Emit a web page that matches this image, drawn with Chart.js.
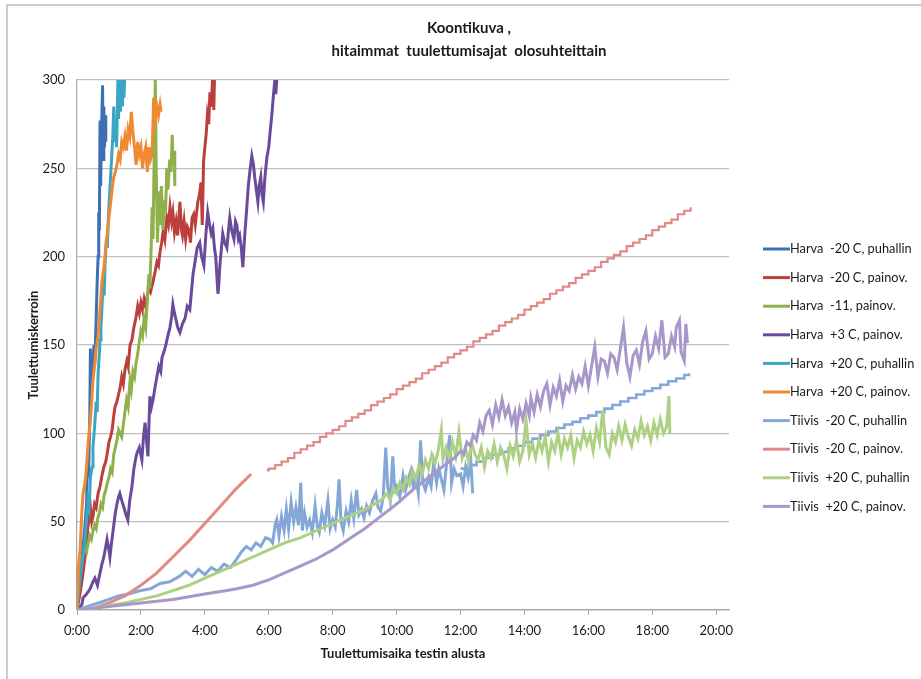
<!DOCTYPE html>
<html>
<head>
<meta charset="utf-8">
<title>Koontikuva</title>
<script src="https://cdn.jsdelivr.net/npm/chart.js@4.4.1/dist/chart.umd.min.js"></script>
<style>
  html, body { margin: 0; padding: 0; background: #fff; }
  #wrap { width: 921px; height: 679px; }
</style>
</head>
<body>
<div id="wrap"><canvas id="koonti" width="921" height="679"></canvas></div>
<script>
// time in hours from test start, value = tuulettumiskerroin
var harvaM20Puh = [[0,0],[0.05,12],[0.1,22],[0.15,30],[0.2,38],[0.25,48],[0.3,60],[0.33,90],[0.36,75],[0.4,110],[0.42,148],[0.44,120],[0.47,145],[0.5,135],[0.53,150],[0.56,140],[0.6,165],[0.63,185],[0.66,200],[0.68,225],[0.7,215],[0.72,277],[0.74,240],[0.76,265],[0.8,297],[0.82,255],[0.84,285],[0.86,262],[0.88,280],[0.9,265]];

var harvaM20Pai = [[0,0],[0.05,5],[0.1,10],[0.15,16],[0.19,21],[0.25,30],[0.3,38],[0.34,47],[0.38,52],[0.42,58],[0.46,50],[0.5,53],[0.55,60],[0.6,58],[0.66,66],[0.72,70],[0.78,76],[0.84,81],[0.9,84],[0.94,88],[1.0,95],[1.05,98],[1.1,102],[1.15,110],[1.19,115],[1.25,118],[1.3,122],[1.34,125],[1.4,132],[1.45,128],[1.5,136],[1.56,141],[1.6,138],[1.66,150],[1.72,153],[1.78,160],[1.84,165],[1.9,172],[1.95,168],[2.0,174],[2.05,170],[2.1,176],[2.15,172],[2.2,178],[2.25,182],[2.3,180],[2.38,186],[2.45,192],[2.5,197],[2.55,195],[2.6,203],[2.65,208],[2.7,215],[2.75,210],[2.81,222],[2.86,218],[2.91,228],[2.96,220],[3.0,225],[3.05,214],[3.1,220],[3.15,212],[3.22,231],[3.27,215],[3.3,212],[3.35,220],[3.4,210],[3.45,217],[3.5,215],[3.55,208],[3.6,222],[3.65,224],[3.7,218],[3.78,231],[3.84,236],[3.88,242],[3.92,218],[3.96,254],[4.0,262],[4.04,269],[4.08,280],[4.12,275],[4.16,293],[4.2,285],[4.24,300],[4.28,283],[4.3,300]];

var harvaM11Pai = [[0,0],[0.05,15],[0.1,22],[0.15,28],[0.2,32],[0.25,35],[0.3,33],[0.35,38],[0.4,42],[0.45,40],[0.5,45],[0.55,48],[0.6,46],[0.65,52],[0.7,55],[0.75,60],[0.8,58],[0.85,65],[0.9,68],[0.95,72],[1.0,75],[1.05,80],[1.1,78],[1.15,88],[1.2,92],[1.25,96],[1.3,102],[1.35,100],[1.4,98],[1.45,105],[1.5,112],[1.55,119],[1.6,115],[1.66,130],[1.7,125],[1.75,135],[1.8,132],[1.85,140],[1.9,145],[1.95,152],[2.0,158],[2.05,155],[2.1,165],[2.15,160],[2.2,175],[2.25,190],[2.28,182],[2.32,205],[2.35,228],[2.38,210],[2.42,265],[2.45,300],[2.48,246],[2.52,208],[2.56,237],[2.6,218],[2.64,240],[2.69,215],[2.73,232],[2.77,225],[2.81,250],[2.85,238],[2.9,255],[2.94,248],[2.98,269],[3.01,252],[3.04,260],[3.06,240]];

var harvaP3Pai = [[0,0],[0.15,3],[0.19,7],[0.3,9],[0.41,12],[0.5,16],[0.56,18],[0.64,14],[0.72,21],[0.78,26],[0.84,30],[0.9,36],[0.94,40],[1.0,34],[1.03,30],[1.08,38],[1.13,45],[1.2,55],[1.25,60],[1.3,64],[1.34,66],[1.4,62],[1.47,58],[1.53,54],[1.59,51],[1.65,62],[1.72,70],[1.78,80],[1.84,86],[1.88,89],[1.95,92],[2.03,85],[2.08,98],[2.13,106],[2.18,95],[2.22,87],[2.28,121],[2.33,115],[2.38,119],[2.44,126],[2.5,132],[2.56,138],[2.62,135],[2.66,143],[2.72,146],[2.78,150],[2.84,155],[2.91,160],[2.96,166],[3.0,173],[3.05,168],[3.09,165],[3.15,160],[3.22,157],[3.3,162],[3.38,165],[3.45,172],[3.53,170],[3.58,180],[3.63,190],[3.7,198],[3.76,205],[3.84,208],[3.9,200],[3.97,195],[4.03,212],[4.09,225],[4.15,218],[4.2,213],[4.25,216],[4.3,205],[4.34,200],[4.38,188],[4.41,179],[4.44,185],[4.47,195],[4.52,205],[4.56,213],[4.62,208],[4.69,205],[4.74,215],[4.78,222],[4.84,215],[4.91,210],[4.96,220],[5.0,218],[5.05,210],[5.09,212],[5.14,205],[5.19,194],[5.24,210],[5.31,227],[5.36,240],[5.42,250],[5.47,257],[5.52,252],[5.56,245],[5.61,238],[5.66,231],[5.7,240],[5.75,245],[5.79,235],[5.83,231],[5.88,245],[5.94,256],[6.0,262],[6.05,272],[6.09,279],[6.14,290],[6.19,300],[6.22,292],[6.25,300]];

var harvaP20Puh = [[0,0],[0.05,10],[0.1,18],[0.15,25],[0.2,32],[0.25,40],[0.3,52],[0.34,62],[0.38,58],[0.42,75],[0.47,81],[0.5,92],[0.56,106],[0.6,118],[0.63,112],[0.66,134],[0.7,145],[0.72,153],[0.75,160],[0.78,171],[0.82,185],[0.85,178],[0.88,197],[0.92,210],[0.95,205],[0.98,222],[1.02,235],[1.05,245],[1.09,258],[1.12,268],[1.15,285],[1.18,265],[1.2,272],[1.24,262],[1.28,300],[1.3,278],[1.33,300],[1.36,282],[1.39,300],[1.42,285],[1.45,300],[1.47,290],[1.49,300]];

var harvaP20Pai = [[0,0],[0.05,25],[0.1,35],[0.15,55],[0.19,66],[0.25,72],[0.3,81],[0.35,95],[0.41,106],[0.45,115],[0.5,130],[0.55,138],[0.6,148],[0.66,155],[0.72,170],[0.78,186],[0.85,195],[0.9,205],[0.94,212],[1.0,222],[1.05,230],[1.09,237],[1.15,245],[1.2,248],[1.25,252],[1.3,258],[1.35,255],[1.4,265],[1.45,262],[1.5,268],[1.55,260],[1.6,272],[1.65,268],[1.7,282],[1.75,270],[1.8,262],[1.85,252],[1.9,265],[1.95,258],[2.0,262],[2.05,250],[2.1,258],[2.15,262],[2.2,248],[2.25,262],[2.3,255],[2.35,258],[2.4,290],[2.45,278],[2.5,285],[2.55,280],[2.6,286],[2.63,282]];

var tiivisM20Puh = [[0,0],[0.5,3],[1.0,6],[1.3,8],[1.6,9],[2.0,11],[2.3,12],[2.6,15],[2.9,16],[3.2,19],[3.4,22],[3.6,19],[3.8,23],[4.0,20],[4.2,24],[4.4,22],[4.6,26],[4.8,24],[5.0,29],[5.15,33],[5.3,36],[5.45,34],[5.6,38],[5.75,36],[5.9,41],[6.03,40],[6.12,38],[6.2,48],[6.25,51],[6.32,42],[6.4,53],[6.48,45],[6.55,57],[6.62,46],[6.7,61],[6.78,50],[6.85,58],[6.93,48],[7.0,72],[7.05,45],[7.12,55],[7.2,47],[7.28,51],[7.36,44],[7.45,59],[7.52,47],[7.58,44],[7.66,55],[7.75,48],[7.85,62],[7.92,46],[8.0,51],[8.08,47],[8.15,60],[8.2,74],[8.26,50],[8.33,45],[8.42,56],[8.5,50],[8.58,62],[8.66,52],[8.75,68],[8.82,54],[8.9,57],[8.98,52],[9.06,59],[9.15,55],[9.25,62],[9.35,66],[9.42,58],[9.5,56],[9.58,64],[9.66,92],[9.72,70],[9.8,62],[9.88,87],[9.94,68],[10.0,70],[10.1,64],[10.2,76],[10.28,68],[10.36,74],[10.45,79],[10.52,70],[10.6,75],[10.68,66],[10.75,96],[10.82,72],[10.9,68],[11.0,75],[11.08,70],[11.16,83],[11.25,72],[11.32,80],[11.4,74],[11.48,68],[11.56,82],[11.66,99],[11.72,72],[11.8,80],[11.88,76],[12.0,77],[12.08,70],[12.16,81],[12.24,75],[12.32,85],[12.38,66]];

// the same test continues as a stepped trace after 12:00
var tiivisM20PuhTail = [[12.0,80],[12.25,82],[12.5,84],[12.75,86],[13.0,88],[13.25,89.5],[13.5,91.5],[13.75,93],[14.0,95],[14.25,97],[14.5,99],[14.75,101],[15.0,103],[15.25,105],[15.5,106.5],[15.75,108.5],[16.0,110],[16.25,112],[16.5,114],[16.75,116],[17.0,118],[17.25,120],[17.5,122],[17.75,124],[18.0,125.5],[18.25,127.5],[18.5,129.5],[18.75,131],[19.0,133],[19.15,134]];

var tiivisM20Pai = [[0,0],[0.5,1],[1,4],[1.5,8],[2,14],[2.5,21],[3,30],[3.5,39],[4,49],[4.5,59],[5,69],[5.45,77]];

// after the gap the trace is a fine staircase
var tiivisM20PaiSteps = [[5.94,79],[6.0,80],[6.2,82],[6.4,84],[6.6,86],[6.8,89],[7.0,91],[7.2,93],[7.4,95],[7.6,98],[7.8,100],[8.0,102],[8.2,104],[8.4,107],[8.6,109],[8.8,111],[9.0,113],[9.2,116],[9.4,118],[9.6,120],[9.8,122],[10.0,125],[10.2,127],[10.4,129],[10.6,131],[10.8,134],[11.0,136],[11.2,138],[11.4,140],[11.6,143],[11.8,145],[12.0,147],[12.2,149],[12.4,152],[12.6,154],[12.8,156],[13.0,158],[13.2,161],[13.4,163],[13.6,165],[13.8,167],[14.0,170],[14.2,172],[14.4,174],[14.6,176],[14.8,179],[15.0,181],[15.2,183],[15.4,185],[15.6,188],[15.8,190],[16.0,192],[16.2,194],[16.4,197],[16.6,199],[16.8,201],[17.0,203],[17.2,206],[17.4,208],[17.6,210],[17.8,212],[18.0,215],[18.2,217],[18.4,219],[18.6,221],[18.8,224],[19.0,226],[19.2,228]];

var tiivisP20Puh = [[0,0],[0.5,1],[1,2.5],[1.5,4],[2,6],[2.5,8],[3,11],[3.5,14],[4,18],[4.5,22],[5,26],[5.5,30],[6,34],[6.5,38],[7,41],[7.5,45],[8,49],[8.5,53],[9,57],[9.5,62],[9.7,66],[9.8,62],[9.9,69],[10.0,66],[10.1,72],[10.2,68],[10.3,75],[10.4,71],[10.5,79],[10.6,74],[10.7,82],[10.8,77],[10.9,85],[11.0,80],[11.1,88],[11.2,83],[11.3,90],[11.4,102],[11.45,85],[11.55,92],[11.65,86],[11.75,95],[11.85,87],[11.95,101],[12.05,86],[12.15,92],[12.25,84],[12.35,95],[12.45,88],[12.55,85],[12.65,92],[12.75,81],[12.85,90],[12.95,86],[13.05,94],[13.15,84],[13.25,92],[13.35,88],[13.45,80],[13.55,93],[13.65,87],[13.75,96],[13.85,84],[13.95,90],[14.05,107],[14.15,88],[14.25,94],[14.35,86],[14.45,96],[14.55,90],[14.65,98],[14.75,84],[14.85,95],[14.95,90],[15.05,100],[15.15,88],[15.25,97],[15.35,92],[15.45,99],[15.55,86],[15.65,96],[15.75,92],[15.85,101],[15.95,94],[16.05,99],[16.15,90],[16.25,103],[16.35,95],[16.45,113],[16.55,92],[16.65,88],[16.75,100],[16.85,95],[16.95,104],[17.05,96],[17.15,105],[17.25,98],[17.35,93],[17.45,102],[17.55,97],[17.65,107],[17.75,99],[17.85,104],[17.95,96],[18.05,106],[18.15,99],[18.25,108],[18.35,100],[18.45,104],[18.52,121],[18.55,100]];

var tiivisP20Pai = [[0,0],[0.5,1],[1,2],[1.5,3],[2,4],[2.5,5],[3,6],[3.5,7.5],[4,9],[4.5,10.5],[5,12],[5.5,14],[6,17],[6.5,21],[7,25],[7.5,29],[8,34],[8.5,40],[9,46],[9.5,53],[10,60],[10.5,68],[11,75],[11.5,82],[11.8,86],[12.0,90],[12.1,88],[12.2,95],[12.3,93],[12.4,99],[12.5,96],[12.6,106],[12.7,101],[12.8,110],[12.9,113],[13.0,105],[13.1,116],[13.2,109],[13.3,119],[13.4,110],[13.5,115],[13.6,106],[13.7,112],[13.75,102],[13.85,114],[13.95,108],[14.05,117],[14.15,110],[14.2,120],[14.3,112],[14.4,122],[14.5,115],[14.6,124],[14.7,128],[14.8,116],[14.9,126],[15.0,121],[15.1,130],[15.2,118],[15.3,127],[15.4,124],[15.5,133],[15.6,125],[15.7,132],[15.8,128],[15.9,138],[16.0,127],[16.1,138],[16.2,149],[16.3,132],[16.4,142],[16.5,141],[16.6,134],[16.7,145],[16.8,143],[16.9,136],[17.0,148],[17.1,160],[17.2,140],[17.3,132],[17.4,144],[17.5,147],[17.6,139],[17.7,152],[17.8,158],[17.9,142],[18.0,145],[18.1,155],[18.2,148],[18.3,164],[18.4,143],[18.5,145],[18.6,155],[18.7,149],[18.75,160],[18.85,164],[18.9,146],[19.0,141],[19.05,162],[19.1,151]];

var seriesNames = ["Harva  -20 C, puhallin", "Harva  -20 C, painov.", "Harva  -11, painov.", "Harva  +3 C, painov.",
                   "Harva  +20 C, puhallin", "Harva  +20 C, painov.", "Tiivis  -20 C, puhallin", "Tiivis  -20 C, painov.",
                   "Tiivis  +20 C, puhallin", "Tiivis  +20 C, painov."];
var seriesColors = ["#3c6fb4", "#bb3f3b", "#8fb04a", "#6a4b9b", "#3ba6c4", "#ef8a33",
                    "#85a7d8", "#e08a88", "#add083", "#a897ca"];
var seriesData = [harvaM20Puh, harvaM20Pai, harvaM11Pai, harvaP3Pai, harvaP20Puh, harvaP20Pai,
                  tiivisM20Puh, tiivisM20Pai, tiivisP20Puh, tiivisP20Pai];

var yTicks = [0, 50, 100, 150, 200, 250, 300];

var datasets = [];
for (var i = 0; i < seriesData.length; i++) {
    datasets.push({
        label: seriesNames[i],
        data: seriesData[i],
        borderColor: seriesColors[i],
        backgroundColor: seriesColors[i],
        borderWidth: 3,
        pointRadius: 0,
        tension: 0,
        order: 20 - i
    });
}
// extra traces belonging to series 7 and 8 (not in the legend)
datasets.push({label: "", data: tiivisM20PuhTail, borderColor: seriesColors[6], borderWidth: 2.6,
               pointRadius: 0, stepped: true, order: 14});
datasets.push({label: "", data: tiivisM20PaiSteps, borderColor: seriesColors[7], borderWidth: 2.2,
               pointRadius: 0, stepped: true, order: 13});

// title, legend and the outer frame are painted here
var decor = {
    id: "decor",
    beforeDraw: function (chart) {
        var ctx = chart.ctx;
        ctx.save();
        ctx.strokeStyle = "#bdbdbd";
        ctx.lineWidth = 1.5;
        ctx.beginPath();
        ctx.moveTo(7, 679);
        ctx.lineTo(7, 5);
        ctx.lineTo(921, 5);
        ctx.stroke();
        ctx.restore();
    },
    afterDraw: function (chart) {
        var ctx = chart.ctx;
        ctx.save();
        ctx.fillStyle = "#1a1a1a";
        ctx.textAlign = "center";
        ctx.textBaseline = "middle";
        ctx.font = "bold 15px Lato";
        ctx.fillText("Koontikuva ,", 469, 28);
        ctx.fillText("hitaimmat  tuulettumisajat  olosuhteittain", 469, 51);

        ctx.textAlign = "left";
        ctx.font = "12.8px Lato";
        for (var k = 0; k < seriesNames.length; k++) {
            var y = 249 + k * 28.6;
            ctx.strokeStyle = seriesColors[k];
            ctx.lineWidth = 3;
            ctx.beginPath();
            ctx.moveTo(763, y);
            ctx.lineTo(790, y);
            ctx.stroke();
            ctx.fillStyle = "#1a1a1a";
            ctx.fillText(seriesNames[k], 790, y);
        }
        ctx.restore();
    }
};

function hourLabel(v) {
    return Math.round(v) + ":00";
}

new Chart(document.getElementById("koonti"), {
    type: "line",
    data: { datasets: datasets },
    plugins: [decor],
    options: {
        responsive: false,
        animation: false,
        layout: { padding: { left: 7, right: 192, top: 80, bottom: 0 } },
        plugins: { legend: { display: false }, title: { display: false }, tooltip: { enabled: false } },
        scales: {
            x: {
                type: "linear",
                min: 0,
                max: 20.4,
                afterFit: function (s) { s.height = 69; },
                ticks: { stepSize: 2, includeBounds: false, padding: 8, maxRotation: 0, autoSkip: false,
                         color: "#1a1a1a", font: { family: "Lato", size: 13 }, callback: hourLabel },
                grid: { drawOnChartArea: false, drawTicks: true, tickLength: 5, color: "#a6a6a6" },
                border: { color: "#a6a6a6", width: 1.2 },
                title: { display: true, text: "Tuulettumisaika testin alusta", color: "#1a1a1a",
                         font: { family: "Lato", size: 13, weight: "bold" }, padding: { top: 0, bottom: 17 } }
            },
            y: {
                min: 0,
                max: 300,
                afterFit: function (s) { s.width = 70; },
                afterBuildTicks: function (s) { s.ticks = yTicks.map(function (v) { return { value: v }; }); },
                ticks: { padding: 12, color: "#1a1a1a", font: { family: "Lato", size: 13 } },
                grid: { drawTicks: false, color: "#bfbfbf", lineWidth: 1.2 },
                border: { color: "#a6a6a6", width: 1.2 },
                title: { display: true, text: "Tuulettumiskerroin", color: "#1a1a1a",
                         font: { family: "Lato", size: 13, weight: "bold" }, padding: { top: 19, bottom: 0 } }
            }
        }
    }
});
</script>
</body>
</html>
